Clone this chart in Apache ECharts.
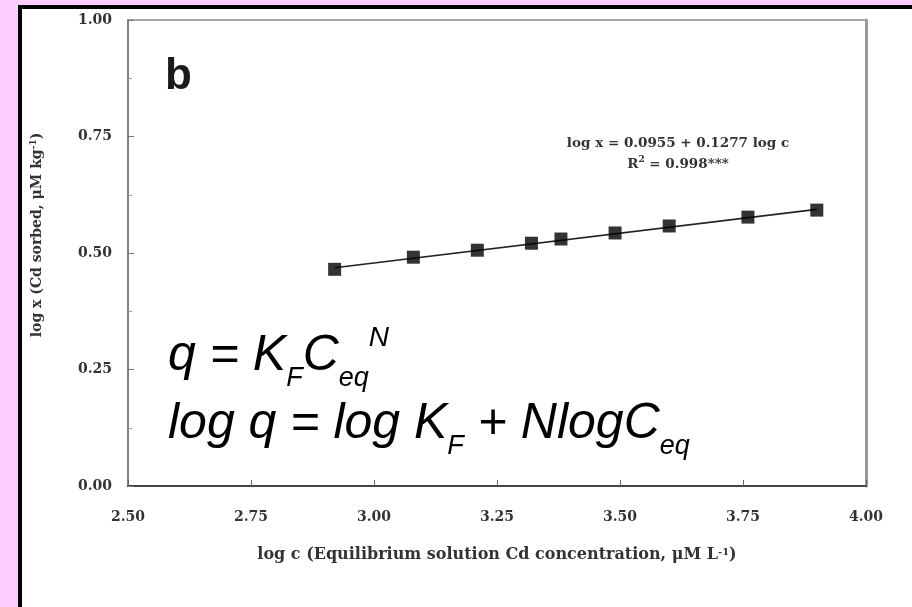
<!DOCTYPE html>
<html>
<head>
<meta charset="utf-8">
<title>Freundlich isotherm – Cd sorption</title>
<script src="https://cdn.jsdelivr.net/npm/echarts@6/dist/echarts.min.js"></script>
<style>
  html, body { margin: 0; padding: 0; background: #FFCCFF; }
  #chart { width: 912px; height: 607px; }
</style>
</head>
<body>
<div id="chart"></div>
<script>
// Measured points: log of equilibrium Cd concentration vs log of Cd sorbed
const logC = [2.92, 3.08, 3.21, 3.32, 3.38, 3.49, 3.60, 3.76, 3.90];
const logX = [0.465, 0.491, 0.506, 0.521, 0.530, 0.543, 0.558, 0.577, 0.592];

// Regression reported on the chart: log x = a + b log c
const fitIntercept = 0.0955;
const fitSlope = 0.1277;
const fitR2 = '0.998***';

// Axis ranges
const xMin = 2.5, xMax = 4.0, xStep = 0.25;
const yMin = 0.0, yMax = 1.0, yStep = 0.25;

const points = logC.map((c, i) => [c, logX[i]]);
const cFirst = logC[0], cLast = logC[logC.length - 1];
const fitLine = [
  [cFirst, fitIntercept + fitSlope * cFirst],
  [cLast, fitIntercept + fitSlope * cLast]
];

const serif = 'DejaVu Serif';
const labelColor = '#333';

const chart = echarts.init(document.getElementById('chart'), null, { renderer: 'canvas' });

const mathMain = { fontSize: 50, fontStyle: 'italic', fontFamily: 'Liberation Sans', fill: '#000', lineHeight: 72, verticalAlign: 'middle' };
const mathSub = { fontSize: 27, fontStyle: 'italic', fontFamily: 'Liberation Sans', fill: '#000', lineHeight: 27, verticalAlign: 'bottom' };
const mathSup = { fontSize: 28, fontStyle: 'italic', fontFamily: 'Liberation Sans', fill: '#000', lineHeight: 28, verticalAlign: 'top', padding: [4, 0, 0, 0] };

chart.setOption({
  backgroundColor: '#FFCCFF',
  animation: false,
  grid: {
    left: 128, top: 20, width: 738, height: 466,
    show: true, borderColor: '#888', borderWidth: 1.5, backgroundColor: 'transparent'
  },
  graphic: [
    // dark frame and white panel
    { type: 'rect', z: -10, silent: true, shape: { x: 18, y: 5, width: 920, height: 620 }, style: { fill: '#000' } },
    { type: 'rect', z: -9, silent: true, shape: { x: 22, y: 9, width: 920, height: 620 }, style: { fill: '#fff' } },
    // panel letter
    { type: 'text', z: 10, x: 165, y: 77, style: { text: 'b', font: 'bold 44px "Liberation Sans"', fill: '#1a1a1a', verticalAlign: 'middle' } },
    // y axis title
    {
      type: 'text', z: 10, x: 37, y: 235, rotation: Math.PI / 2,
      style: {
        text: 'log x (Cd sorbed, μM kg{sup|-1})',
        font: 'bold 14px "DejaVu Serif"', fill: labelColor,
        align: 'center', verticalAlign: 'middle',
        rich: { sup: { fontSize: 9, fontWeight: 'bold', fontFamily: serif, fill: labelColor, verticalAlign: 'top', lineHeight: 15 } }
      }
    },
    // regression equation
    {
      type: 'text', z: 10, x: 678, y: 143,
      style: { text: 'log x = ' + fitIntercept.toFixed(4) + ' + ' + fitSlope.toFixed(4) + ' log c', font: 'bold 13.5px "DejaVu Serif"', fill: labelColor, align: 'center', verticalAlign: 'middle' }
    },
    {
      type: 'text', z: 10, x: 678, y: 164,
      style: {
        text: 'R{sup|2} = ' + fitR2,
        font: 'bold 13.5px "DejaVu Serif"', fill: labelColor, align: 'center', verticalAlign: 'middle',
        rich: { sup: { fontSize: 9, fontWeight: 'bold', fontFamily: serif, fill: labelColor, verticalAlign: 'top', lineHeight: 17 } }
      }
    },
    // Freundlich relations
    {
      type: 'text', z: 10, x: 168, y: 320,
      style: {
        text: '{m|q = K}{s|F}{m|C}{s|eq}{p|N}',
        verticalAlign: 'top',
        rich: { m: mathMain, s: mathSub, p: mathSup }
      }
    },
    {
      type: 'text', z: 10, x: 168, y: 388,
      style: {
        text: '{m|log q = log K}{s|F}{m| + NlogC}{s|eq}',
        verticalAlign: 'top',
        rich: { m: mathMain, s: mathSub }
      }
    }
  ],
  xAxis: [{
    type: 'value', min: xMin, max: xMax, interval: xStep,
    name: 'log c (Equilibrium solution Cd concentration, μM L{sup|-1})',
    nameLocation: 'middle', nameGap: 61,
    nameTextStyle: {
      fontFamily: serif, fontWeight: 'bold', fontSize: 16, color: labelColor,
      rich: { sup: { fontSize: 10, fontWeight: 'bold', fontFamily: serif, color: labelColor, verticalAlign: 'top', lineHeight: 16 } }
    },
    axisLine: { lineStyle: { color: '#444', width: 2 } },
    axisTick: { inside: true, length: 6, lineStyle: { color: '#666', width: 1 } },
    axisLabel: { formatter: v => v.toFixed(2), fontFamily: serif, fontWeight: 'bold', fontSize: 14, color: labelColor, margin: 24 },
    splitLine: { show: false }
  }],
  yAxis: [{
    type: 'value', min: yMin, max: yMax, interval: yStep,
    axisLine: { show: true, lineStyle: { color: '#777', width: 1.5 } },
    axisTick: { show: true, inside: true, length: 6, lineStyle: { color: '#777' } },
    minorTick: { show: true, splitNumber: 2, length: 4, lineStyle: { color: '#999' } },
    axisLabel: { formatter: v => v.toFixed(2), fontFamily: serif, fontWeight: 'bold', fontSize: 14, color: labelColor, margin: 16 },
    splitLine: { show: false }
  }, {
    type: 'value', min: yMin, max: yMax, position: 'right',
    axisLine: { show: true, lineStyle: { color: '#9a9a9a', width: 3 } },
    axisTick: { show: false }, axisLabel: { show: false }, splitLine: { show: false }
  }],
  series: [
    {
      name: 'fit', type: 'line', data: fitLine, symbol: 'none',
      lineStyle: { color: '#222', width: 1.6 }, z: 2, silent: true
    },
    {
      name: 'measured', type: 'scatter', data: points, symbol: 'rect', symbolSize: 13,
      itemStyle: { color: '#000' }, z: 3
    }
  ]
});
</script>
</body>
</html>
